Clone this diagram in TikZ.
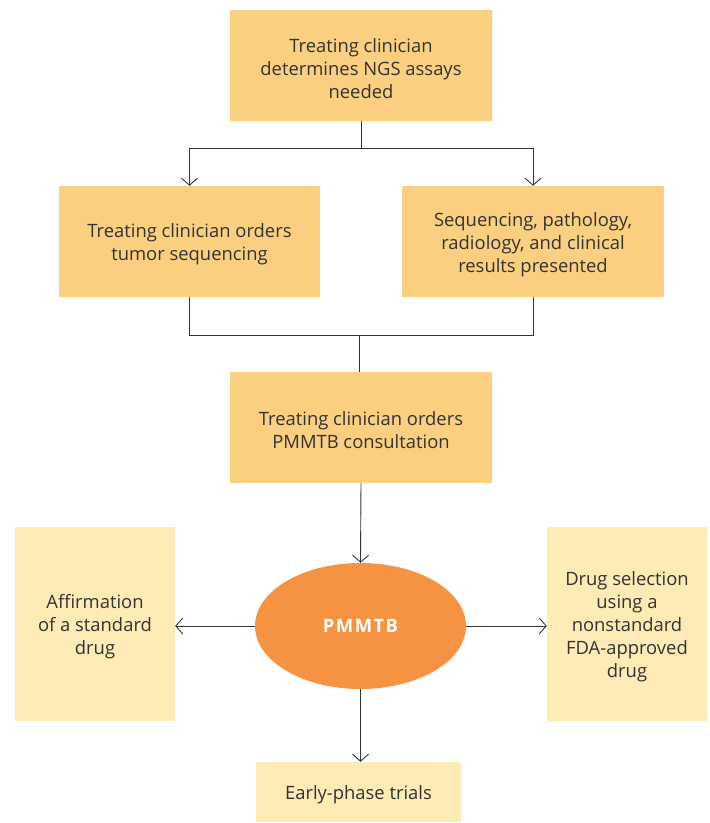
\documentclass[tikz,border=0pt]{standalone}
\usepackage{fontspec}
\setmainfont{Open Sans}
\usetikzlibrary{arrows.meta,shapes.geometric}
\definecolor{boxdark}{HTML}{FBCF80}
\definecolor{boxpale}{HTML}{FEEBB5}
\definecolor{ovalc}{HTML}{F59342}
\definecolor{txt}{HTML}{333333}
\newcommand{\boxtext}[2]{\parbox{#1}{\centering\vspace*{6pt}#2}}
\begin{document}
\begin{tikzpicture}[x=1pt,y=-1pt,
  box/.style={fill=boxdark,draw=none,inner sep=0pt,align=center,text=txt,font=\fontsize{18.4}{23}\selectfont},
  palebox/.style={fill=boxpale,draw=none,inner sep=0pt,align=center,text=txt,font=\fontsize{18.4}{23}\selectfont},
  conn/.style={draw=black!80,line width=0.9pt},
  arr/.style={conn,-{Straight Barb[length=7pt,width=16pt,line width=0.9pt]}}]
\useasboundingbox (0,0) rectangle (710,823);
\node[box,minimum width=262,minimum height=111] (top) at (361,65.5) {\boxtext{250pt}{Treating clinician\\determines NGS assays\\needed}};
\node[box,minimum width=261,minimum height=111] (left) at (189.5,241.5) {\boxtext{250pt}{Treating clinician orders\\tumor sequencing}};
\node[box,minimum width=262,minimum height=111] (right) at (533,241.5) {\boxtext{250pt}{Sequencing, pathology,\\radiology, and clinical\\results presented}};
\node[box,minimum width=262,minimum height=111] (mid) at (361,427.5) {\boxtext{250pt}{Treating clinician orders\\PMMTB consultation}};
\node[ellipse,fill=ovalc,draw=none,minimum width=211,minimum height=126,inner sep=0pt,text=white,font=\fontsize{18.4}{20}\selectfont\bfseries\addfontfeature{LetterSpace=8}] (pm) at (360.5,626) {PMMTB};
\node[palebox,minimum width=160,minimum height=194] (aff) at (95,624) {\boxtext{150pt}{Affirmation\\of a standard\\drug}};
\node[palebox,minimum width=160,minimum height=194] (drug) at (627,624) {\boxtext{150pt}{Drug selection\\using a\\nonstandard\\FDA-approved\\drug}};
\node[palebox,minimum width=205,minimum height=60] (early) at (358.5,792) {\boxtext{200pt}{Early-phase trials}};
\coordinate (sp) at (361,148);
\coordinate (jn) at (359,335);
\draw[conn] (top.south) -- (sp);
\draw[arr] (sp) -| (left.north);
\draw[arr] (sp) -| (right.north);
\draw[conn] (left.south) |- (jn);
\draw[conn] (right.south) |- (jn);
\draw[conn] (jn) -- (jn |- mid.north);
\draw[arr] (mid.south) -- (pm.north);
\draw[arr] (pm.west) -- (pm.west -| aff.east);
\draw[arr] (pm.east) -- (pm.east -| drug.west);
\draw[arr] (pm.south) -- (pm.south |- early.north);
\end{tikzpicture}
\end{document}
